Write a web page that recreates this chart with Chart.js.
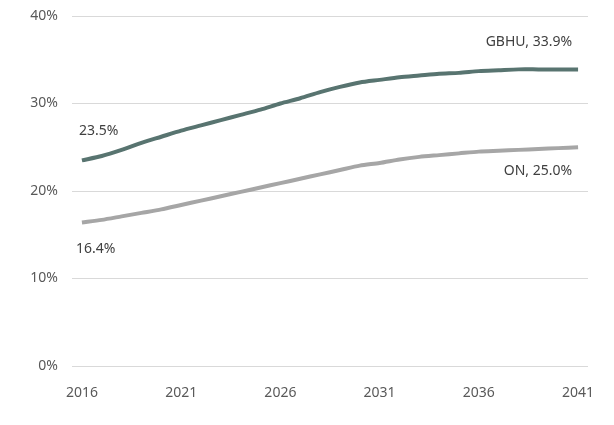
<!DOCTYPE html>
<html>
<head>
<meta charset="utf-8">
<script src="https://cdn.jsdelivr.net/npm/chart.js@4/dist/chart.umd.min.js"></script>
<style>
  html, body { margin: 0; padding: 0; background: #fff; }
  #wrap { width: 614px; height: 425px; }
</style>
</head>
<body>
<div id="wrap"><canvas id="ShareChart"></canvas></div>
<script>
  // years on the x axis
  const years = [
    '2016', '2017', '2018', '2019', '2020', '2021', '2022', '2023', '2024',
    '2025', '2026', '2027', '2028', '2029', '2030', '2031', '2032', '2033',
    '2034', '2035', '2036', '2037', '2038', '2039', '2040', '2041'
  ];

  // series, percent
  const gbhu = [
    23.5, 24.0, 24.7, 25.5, 26.2, 26.9, 27.5, 28.1, 28.7, 29.3, 30.0, 30.6, 31.3,
    31.9, 32.4, 32.7, 33.0, 33.2, 33.4, 33.5, 33.7, 33.8, 33.9, 33.9, 33.9, 33.9
  ];
  const on = [
    16.4, 16.7, 17.1, 17.5, 17.9, 18.4, 18.9, 19.4, 19.9, 20.4, 20.9, 21.4, 21.9,
    22.4, 22.9, 23.2, 23.6, 23.9, 24.1, 24.3, 24.5, 24.6, 24.7, 24.8, 24.9, 25.0
  ];

  const seriesNames = ['GBHU', 'ON'];
  const yTicks = [0, 10, 20, 30, 40];

  const FONT = '"Noto Sans", sans-serif';

  // start / end labels for each line
  const endLabels = {
    id: 'endLabels',
    afterDatasetsDraw(chart) {
      const ctx = chart.ctx;
      const x = chart.scales.x, y = chart.scales.y;
      ctx.save();
      ctx.font = '14px ' + FONT;
      ctx.fillStyle = '#404040';
      ctx.textBaseline = 'middle';
      chart.data.datasets.forEach((ds, i) => {
        const last = ds.data.length - 1;
        const x0 = x.getPixelForValue(0), y0 = y.getPixelForValue(ds.data[0]);
        const x1 = x.getPixelForValue(last), y1 = y.getPixelForValue(ds.data[last]);
        ctx.textAlign = 'left';
        if (i === 0) ctx.fillText(ds.data[0].toFixed(1) + '%', x0 - 3, y0 - 29);
        else ctx.fillText(ds.data[0].toFixed(1) + '%', x0 - 6, y0 + 27);
        ctx.textAlign = 'right';
        const txt = seriesNames[i] + ', ' + ds.data[last].toFixed(1) + '%';
        if (i === 0) ctx.fillText(txt, x1 - 6, y1 - 27);
        else ctx.fillText(txt, x1 - 6, y1 + 24);
      });
      ctx.restore();
    }
  };

  const ShareData = {
    labels: years,
    datasets: [{
      label: seriesNames[0],
      data: gbhu,
      borderColor: '#587470',
      borderWidth: 4,
      pointRadius: 0,
      tension: 0.25,
      fill: false
    }, {
      label: seriesNames[1],
      data: on,
      borderColor: '#a6a6a6',
      borderWidth: 4,
      pointRadius: 0,
      tension: 0.25,
      fill: false
    }]
  };

  const ShareConfig = {
    type: 'line',
    data: ShareData,
    plugins: [endLabels],
    options: {
      responsive: true,
      maintainAspectRatio: false,
      animation: false,
      layout: { padding: { left: 0, right: 26, top: 16, bottom: 0 } },
      plugins: {
        legend: { display: false },
        tooltip: { enabled: false }
      },
      scales: {
        x: {
          offset: true,
          grid: { display: false },
          border: { display: false },
          afterFit(scale) { scale.height = 59; scale.paddingLeft = 0; scale.paddingRight = 0; },
          ticks: {
            autoSkip: false,
            maxRotation: 0,
            padding: 11,
            color: '#595959',
            font: { family: FONT, size: 14 },
            callback(val, i) { return i % 5 === 0 ? years[i] : ''; }
          }
        },
        y: {
          min: 0,
          max: 40,
          afterFit(scale) { scale.width = 72; scale.paddingTop = 0; scale.paddingBottom = 0; },
          afterBuildTicks(scale) { scale.ticks = yTicks.map(v => ({ value: v })); },
          grid: { color: '#d9d9d9', lineWidth: 1, drawTicks: false },
          border: { display: false },
          ticks: {
            padding: 14,
            color: '#595959',
            font: { family: FONT, size: 14 },
            callback(v) { return v + '%'; }
          }
        }
      }
    }
  };

  const ShareChart = new Chart(
    document.getElementById('ShareChart'),
    ShareConfig
  );
</script>
</body>
</html>
